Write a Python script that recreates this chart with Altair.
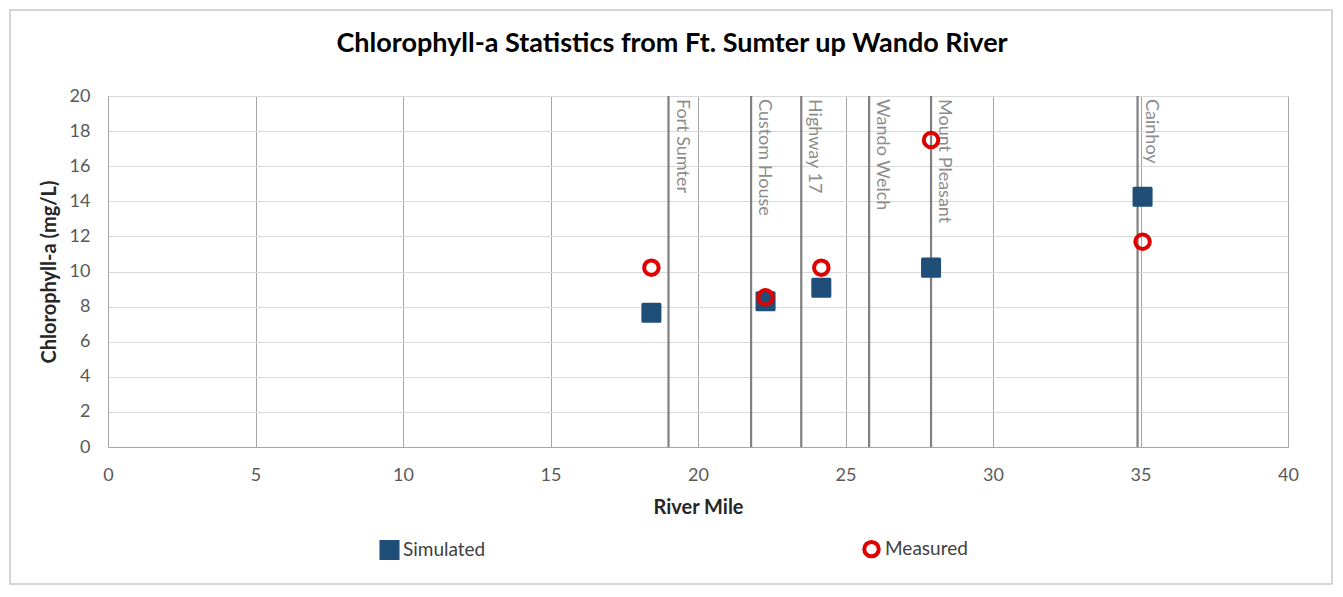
import altair as alt
import pandas as pd

# Data
series_names = ["Simulated", "Measured"]
sim_miles = [18.42, 22.29, 24.18, 27.9, 35.07]
sim_values = [7.65, 8.3, 9.08, 10.22, 14.26]
meas_miles = [18.42, 22.29, 24.18, 27.9, 35.07]
meas_values = [10.22, 8.53, 10.22, 17.49, 11.7]

station_names = ["Fort Sumter", "Custom House", "Highway 17", "Wando Welch", "Mount Pleasant", "Cainhoy"]
station_miles = [19.0, 21.8, 23.5, 25.8, 27.9, 34.9]

x_ticks = [0, 5, 10, 15, 20, 25, 30, 35, 40]
y_ticks = [0, 2, 4, 6, 8, 10, 12, 14, 16, 18, 20]

points = pd.DataFrame(
    {"mile": sim_miles, "value": sim_values, "series": "Simulated"}
)
points = pd.concat(
    [points, pd.DataFrame({"mile": meas_miles, "value": meas_values, "series": "Measured"})],
    ignore_index=True,
)
stations = pd.DataFrame({"name": station_names, "mile": station_miles})

FONT = "Lato"
x_scale = alt.Scale(domain=[0, 40], nice=False)
y_scale = alt.Scale(domain=[0, 20], nice=False)

border = alt.Chart(pd.DataFrame({"k": [0]})).mark_rect(
    fill=None, stroke="#c8c8c8", strokeWidth=1.5, clip=False
).encode(
    x=alt.value(-98), x2=alt.value(1224), y=alt.value(-86), y2=alt.value(488)
)

rules = alt.Chart(stations).mark_rule(color="#808080", strokeWidth=2.2).encode(
    x=alt.X("mile:Q", scale=x_scale,
            axis=alt.Axis(values=x_ticks, title="River Mile", grid=True,
                          gridColor="#a6a6a6", gridWidth=1,
                          domainColor="#a6a6a6", ticks=False, labelFlush=False,
                          labelPadding=19, titlePadding=13)),
)

labels = alt.Chart(stations).mark_text(
    angle=90, align="left", baseline="bottom", dy=-4, dx=3,
    font=FONT, fontSize=18, color="#8c8c8c"
).encode(
    x=alt.X("mile:Q", scale=x_scale),
    y=alt.value(0),
    text="name:N",
)

leg = alt.Legend(title=None, orient="none", direction="horizontal",
                 columns=2, columnPadding=370,
                 legendX=271, legendY=443,
                 labelFont=FONT, labelFontSize=19, labelColor="#404040",
                 labelOffset=3)

pts = alt.Chart(points).mark_point(
    filled=False, opacity=1, strokeJoin="round"
).encode(
    x=alt.X("mile:Q", scale=x_scale),
    y=alt.Y("value:Q", scale=y_scale,
            axis=alt.Axis(values=y_ticks, title="Chlorophyll-a (mg/L)", grid=True,
                          gridColor="#d9d9d9", gridWidth=1,
                          domainColor="#a6a6a6", ticks=False,
                          labelPadding=18, titlePadding=10)),
    shape=alt.Shape("series:N", scale=alt.Scale(domain=series_names, range=["square", "circle"]), legend=leg),
    fill=alt.Fill("series:N", scale=alt.Scale(domain=series_names, range=["#1F4E79", "transparent"]), legend=leg),
    stroke=alt.Stroke("series:N", scale=alt.Scale(domain=series_names, range=["#1F4E79", "#E00000"]), legend=leg),
    size=alt.Size("series:N", scale=alt.Scale(domain=series_names, range=[290, 210]), legend=leg),
    strokeWidth=alt.StrokeWidth("series:N", scale=alt.Scale(domain=series_names, range=[3, 4]), legend=leg),
)

chart = alt.layer(border, rules, labels, pts).properties(
    width=1180,
    height=351,
    padding={"left": 100, "top": 88, "right": 45, "bottom": 140},
    autosize=alt.AutoSizeParams(type="none"),
    title=alt.TitleParams(
        "Chlorophyll-a Statistics from Ft. Sumter up Wando River",
        font=FONT, fontSize=27, fontWeight="bold", color="#000000",
        anchor="middle", frame="group", offset=-49, dx=-26,
    ),
).configure_view(stroke=None).configure_axis(
    labelFont=FONT, labelFontSize=18, labelColor="#595959",
    titleFont=FONT, titleFontSize=20, titleFontWeight="bold", titleColor="#262626",
)

chart.save("out.html", embed_options={"renderer": "svg", "actions": False})
